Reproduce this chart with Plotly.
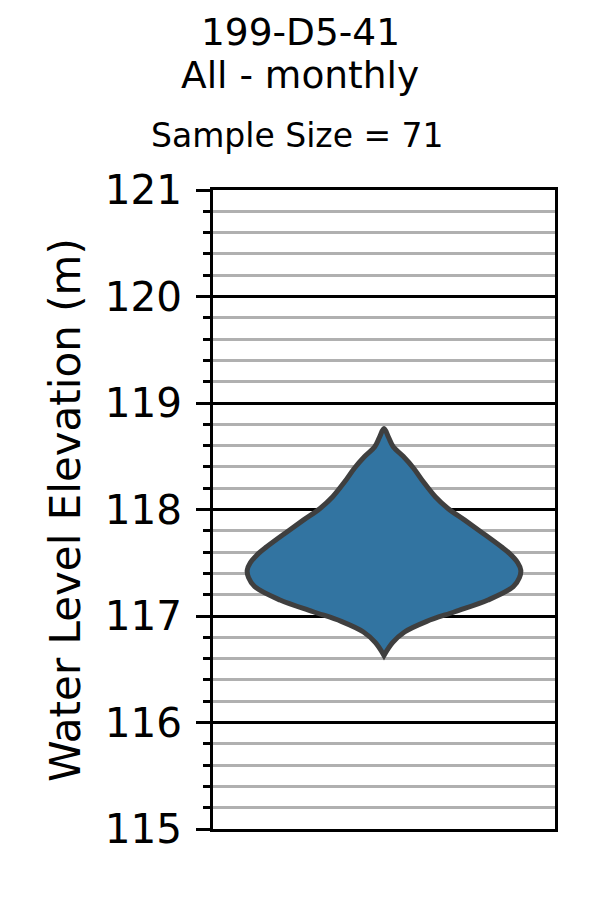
import plotly.graph_objects as go

# Violin outline: elevation (m) and half-width (category units, max 0.4)
elevation = [118.76, 118.68, 118.59, 118.50, 118.39, 118.26, 118.12, 118.01, 117.90,
             117.78, 117.65, 117.59, 117.50, 117.43, 117.36, 117.275, 117.15, 117.04,
             116.95, 116.85, 116.75, 116.63]
half_width = [0.0, 0.013, 0.027, 0.056, 0.086, 0.115, 0.150, 0.187, 0.236,
              0.288, 0.343, 0.366, 0.391, 0.400, 0.396, 0.378, 0.304, 0.207,
              0.125, 0.060, 0.025, 0.0]

title_lines = ["199-D5-41", "All - monthly"]
sample_size = 71
y_label = "Water Level Elevation (m)"
y_range = [115, 121]

FONT = "DejaVu Sans"

xs = half_width + [-w for w in reversed(half_width)]
ys = elevation + list(reversed(elevation))

fig = go.Figure()
fig.add_trace(go.Scatter(
    x=xs, y=ys, mode="lines", fill="toself",
    fillcolor="#3274a1",
    line=dict(color="#3f3f3f", width=5, shape="spline", smoothing=1.0),
    hoverinfo="skip", showlegend=False,
))

W, H = 600, 900
L, R, T, B = 213, 45, 190, 71
pw, ph = W - L - R, H - T - B


def px_x(x):
    return (x - L) / pw


def px_y(y):
    return (H - B - y) / ph


annotations = [
    dict(text=title_lines[0], x=px_x(300), y=px_y(32), font=dict(size=37.5)),
    dict(text=title_lines[1], x=px_x(300), y=px_y(75), font=dict(size=37.5)),
    dict(text=f"Sample Size = {sample_size}", x=px_x(297), y=px_y(135), font=dict(size=33)),
    dict(text=y_label, x=px_x(65), y=px_y(510), font=dict(size=42), textangle=-90),
]
for a in annotations:
    a.update(xref="paper", yref="paper", xanchor="center", yanchor="middle",
             showarrow=False)
    a["font"].update(family=FONT, color="black")

fig.update_layout(
    width=W, height=H,
    margin=dict(l=L, r=R, t=T, b=B, pad=0),
    paper_bgcolor="white", plot_bgcolor="white",
    font=dict(family=FONT, color="black"),
    annotations=annotations,
    showlegend=False,
)
fig.update_xaxes(
    range=[-0.5, 0.5], showgrid=False, zeroline=False, showticklabels=False,
    ticks="", showline=True, mirror=True, linecolor="black", linewidth=2.5,
)
fig.update_yaxes(
    range=y_range, dtick=1, tick0=115,
    showgrid=True, gridcolor="black", gridwidth=2.5, zeroline=False,
    ticks="outside", ticklen=14, tickwidth=2.5, tickcolor="black",
    ticklabelstandoff=6,
    tickfont=dict(family=FONT, size=40.5, color="black"),
    showline=True, mirror=True, linecolor="black", linewidth=2.5,
    minor=dict(dtick=0.2, showgrid=True, gridcolor="#b0b0b0", gridwidth=2.5,
               ticks="outside", ticklen=7, tickwidth=2.5, tickcolor="black"),
)

fig.write_html("out.html")
